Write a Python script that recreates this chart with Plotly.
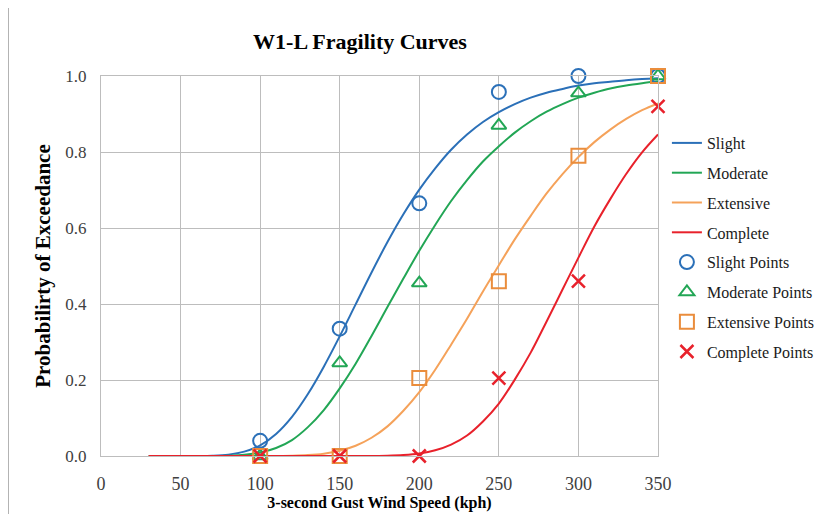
import plotly.graph_objects as go

# Curve sample speeds (kph) and probabilities
curve_x = [30, 40, 50, 60, 70, 80, 90, 100, 110, 120, 130, 140, 150, 160, 170, 180,
           190, 200, 210, 220, 230, 240, 250, 260, 270, 280, 290, 300, 310, 320, 330, 340, 350]
slight_curve = [0, 0, 0, 0.0001, 0.0008, 0.0036, 0.0115, 0.028, 0.058, 0.103, 0.163, 0.235,
                0.315, 0.399, 0.483, 0.563, 0.636, 0.701, 0.757, 0.806, 0.846, 0.879, 0.905,
                0.926, 0.943, 0.956, 0.966, 0.975, 0.981, 0.985, 0.989, 0.992, 0.994]
moderate_curve = [0, 0, 0, 0, 0.0001, 0.0008, 0.003, 0.009, 0.021, 0.042, 0.076, 0.121,
                  0.178, 0.243, 0.316, 0.392, 0.467, 0.540, 0.608, 0.671, 0.726, 0.775, 0.815,
                  0.851, 0.881, 0.906, 0.926, 0.943, 0.956, 0.967, 0.975, 0.981, 0.986]
extensive_curve = [0, 0, 0, 0, 0, 0, 0, 0, 0.0002, 0.0008, 0.0024, 0.0062, 0.014, 0.027,
                   0.048, 0.078, 0.119, 0.168, 0.227, 0.293, 0.361, 0.433, 0.502, 0.570,
                   0.632, 0.691, 0.742, 0.787, 0.826, 0.859, 0.887, 0.910, 0.928]
complete_curve = [0, 0, 0, 0, 0, 0, 0, 0, 0, 0, 0, 0, 0, 0, 0.0002, 0.0008, 0.0026, 0.0066,
                  0.015, 0.030, 0.054, 0.091, 0.138, 0.201, 0.272, 0.354, 0.438, 0.522, 0.604,
                  0.676, 0.742, 0.799, 0.846]

# Observed points
point_x = [100, 150, 200, 250, 300, 350]
slight_pts = [0.04, 0.335, 0.665, 0.958, 1.0, 1.0]
moderate_pts = [0.0, 0.245, 0.455, 0.87, 0.955, 1.0]
extensive_pts = [0.0, 0.0, 0.205, 0.46, 0.79, 1.0]
complete_pts = [0.0, 0.0, 0.0, 0.205, 0.46, 0.92]

x_ticks = [0, 50, 100, 150, 200, 250, 300, 350]
y_ticks = [0.0, 0.2, 0.4, 0.6, 0.8, 1.0]

BLUE = "#2b70b8"
GREEN = "#22a655"
ORANGE = "#f5a25a"
ORANGE_DK = "#ea8d3c"
RED = "#e8212b"
SERIF = "Liberation Serif, Times New Roman, serif"

fig = go.Figure()

curves = [("Slight", slight_curve, BLUE), ("Moderate", moderate_curve, GREEN),
          ("Extensive", extensive_curve, ORANGE), ("Complete", complete_curve, RED)]
for i, (name, ys, col) in enumerate(curves):
    fig.add_trace(go.Scatter(x=curve_x, y=ys, mode="lines", name=name,
                             line=dict(color=col, width=2, shape="spline"),
                             legendgroup=f"g{i}", cliponaxis=False))

points = [("Slight Points", slight_pts, BLUE, "circle-open", 14, 2),
          ("Moderate Points", moderate_pts, GREEN, "triangle-up-open", 13, 2),
          ("Extensive Points", extensive_pts, ORANGE_DK, "square-open", 14, 2),
          ("Complete Points", complete_pts, RED, "x-thin-open", 13, 2.5)]
for i, (name, ys, col, sym, sz, lw) in enumerate(points):
    fig.add_trace(go.Scatter(x=point_x, y=ys, mode="markers", name=name,
                             marker=dict(symbol=sym, size=sz, color=col,
                                         line=dict(color=col, width=lw)),
                             legendgroup=f"p{i}", cliponaxis=False))

axis_common = dict(showgrid=True, gridcolor="#bdbdbd", gridwidth=1,
                   showline=True, linecolor="#bdbdbd", linewidth=1, mirror=True,
                   zeroline=False, ticks="")

fig.update_xaxes(range=[0, 350], tickvals=x_ticks, ticktext=[str(v) for v in x_ticks],
                 ticklabelstandoff=11,
                 tickfont=dict(family=SERIF, size=18, color="#404040"),
                 title=dict(text="<b>3-second Gust Wind Speed (kph)</b>",
                            font=dict(family=SERIF, size=16, color="#000000"),
                            standoff=2),
                 **axis_common)
fig.update_yaxes(range=[0, 1], tickvals=y_ticks, ticktext=[f"{v:.1f}" for v in y_ticks],
                 ticklabelstandoff=10,
                 tickfont=dict(family=SERIF, size=17, color="#404040"),
                 title=dict(text="<b>Probabilirty of Exceedance</b>",
                            font=dict(family=SERIF, size=21, color="#000000"),
                            standoff=8),
                 **axis_common)

# The page body adds an 8px offset, so the figure coordinates are shifted by 8px.
fig.update_layout(
    width=822, height=514,
    margin=dict(l=93, r=172, t=68, b=66, autoexpand=False),
    paper_bgcolor="white", plot_bgcolor="white",
    title=dict(text="<b>W1-L Fragility Curves</b>", x=(360 - 101) / 557, xref="paper",
               xanchor="center", y=1 - 33 / 514, yanchor="middle",
               font=dict(family=SERIF, size=22, color="#000000")),
    legend=dict(x=1.016, xanchor="left", y=(456 - 126) / 380, yanchor="top",
                font=dict(family=SERIF, size=16, color="#1a1a1a"),
                tracegroupgap=6, traceorder="grouped",
                bgcolor="rgba(0,0,0,0)"),
    shapes=[dict(type="rect", xref="paper", yref="paper",
                 x0=(8 - 101) / 557, x1=(840 - 101) / 557,
                 y0=(456 - 540) / 380, y1=(456 - 7) / 380,
                 line=dict(color="#9a9a9a", width=1.5), layer="below")],
)

fig.write_html("out.html")
